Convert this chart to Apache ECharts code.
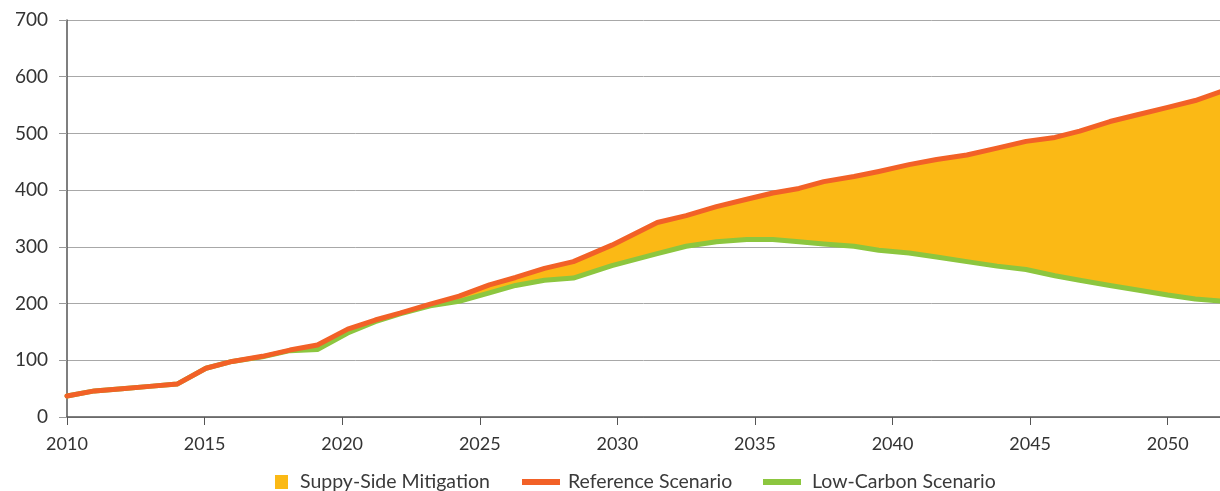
<!DOCTYPE html>
<html>
<head>
<meta charset="utf-8">
<script src="https://cdn.jsdelivr.net/npm/echarts@6/dist/echarts.min.js"></script>
<style>html,body{margin:0;padding:0;background:#fff}#c{width:1220px;height:491px}</style>
</head>
<body>
<div id="c"></div>
<script>
const years = [2010, 2011, 2012, 2013, 2014, 2015.05, 2016, 2017.1, 2018.1, 2019.1, 2020.2, 2021.2, 2022.1, 2023.2, 2024.25, 2025.35, 2026.3, 2027.35, 2028.4, 2029.8, 2031.45, 2032.5, 2033.6, 2034.7, 2035.65, 2036.6, 2037.5, 2038.6, 2039.5, 2040.6, 2041.6, 2042.7, 2043.8, 2044.85, 2045.9, 2046.8, 2047.9, 2048.9, 2050.0, 2051.0, 2052];
const reference = [37, 46, 50, 54, 58, 86, 98, 107, 118, 127, 155, 171, 183, 199, 213, 233, 246, 262, 274, 303, 343, 355, 371, 384, 395, 403, 415, 424, 433, 445, 454, 462, 474, 486, 493, 504, 521, 533, 546, 558, 575];
const lowCarbon = [37, 46, 50, 54, 58, 86, 98, 106, 117, 119, 148, 168, 182, 196, 204, 219, 232, 241, 245, 267, 288, 301, 309, 313, 313, 309, 305, 301, 294, 289, 282, 274, 266, 260, 249, 241, 232, 224, 215, 208, 204];
const yTicks = [0, 100, 200, 300, 400, 500, 600, 700];
const names = ['Suppy-Side Mitigation', 'Reference Scenario', 'Low-Carbon Scenario'];

const colors = { area: '#FBB915', ref: '#F26127', low: '#8CC63F' };
const pair = (arr) => years.map((x, i) => [x, arr[i]]);

const font = 'Lato, "Noto Sans", sans-serif';
const chart = echarts.init(document.getElementById('c'), null, { renderer: 'canvas' });
const legendBase = {
  top: 472, orient: 'horizontal', icon: 'rect', itemGap: 0, padding: 0,
  selectedMode: false
};
const lt = (pad) => ({ fontFamily: font, fontSize: 19.5, color: '#3a3a3a', padding: [0, 0, 0, pad] });
chart.setOption({
  animation: false,
  grid: { left: 67, right: 0, top: 20, bottom: 74, containLabel: false, outerBoundsMode: 'none' },
  xAxis: {
    type: 'value', min: 2010, max: 2051.9, interval: 5,
    axisLine: { show: true, onZero: false, lineStyle: { color: '#555', width: 1.5 } },
    axisTick: { show: true, length: 8, lineStyle: { color: '#555', width: 1 } },
    axisLabel: { margin: 18, fontFamily: font, fontSize: 18, color: '#333', showMaxLabel: false, formatter: v => String(v) },
    splitLine: { show: false }
  },
  yAxis: {
    type: 'value', min: yTicks[0], max: yTicks[yTicks.length - 1], interval: 100,
    axisLine: { show: true, lineStyle: { color: '#555', width: 1.5 } },
    axisTick: { show: true, length: 8, lineStyle: { color: '#999', width: 1 } },
    axisLabel: { margin: 19, fontFamily: font, fontSize: 19, color: '#333' },
    splitLine: { show: true, lineStyle: { color: '#a8a8a8', width: 1 } }
  },
  legend: [
    Object.assign({}, legendBase, { left: 275, itemWidth: 13, itemHeight: 14, data: [{ name: names[0], itemStyle: { color: colors.area } }], textStyle: lt(7) }),
    Object.assign({}, legendBase, { left: 522, itemWidth: 38, itemHeight: 6, data: [{ name: names[1], itemStyle: { color: colors.ref } }], textStyle: lt(3) }),
    Object.assign({}, legendBase, { left: 763, itemWidth: 38, itemHeight: 6, data: [{ name: names[2], itemStyle: { color: colors.low } }], textStyle: lt(6) })
  ],
  series: [
    {
      name: names[0], type: 'custom', data: [[0]], clip: true, z: 2,
      itemStyle: { color: colors.area },
      renderItem: function (params, api) {
        const top = years.map((x, i) => api.coord([x, reference[i]]));
        const bottom = years.map((x, i) => api.coord([x, lowCarbon[i]])).reverse();
        return { type: 'polygon', shape: { points: top.concat(bottom) }, style: { fill: colors.area, stroke: null } };
      }
    },
    { name: names[2], type: 'line', data: pair(lowCarbon), showSymbol: false, symbol: 'none', lineStyle: { width: 5, color: colors.low, join: 'round', cap: 'round' }, itemStyle: { color: colors.low }, z: 3 },
    { name: names[1], type: 'line', data: pair(reference), showSymbol: false, symbol: 'none', lineStyle: { width: 5, color: colors.ref, join: 'round', cap: 'round' }, itemStyle: { color: colors.ref }, z: 4 }
  ]
});
</script>
</body>
</html>
